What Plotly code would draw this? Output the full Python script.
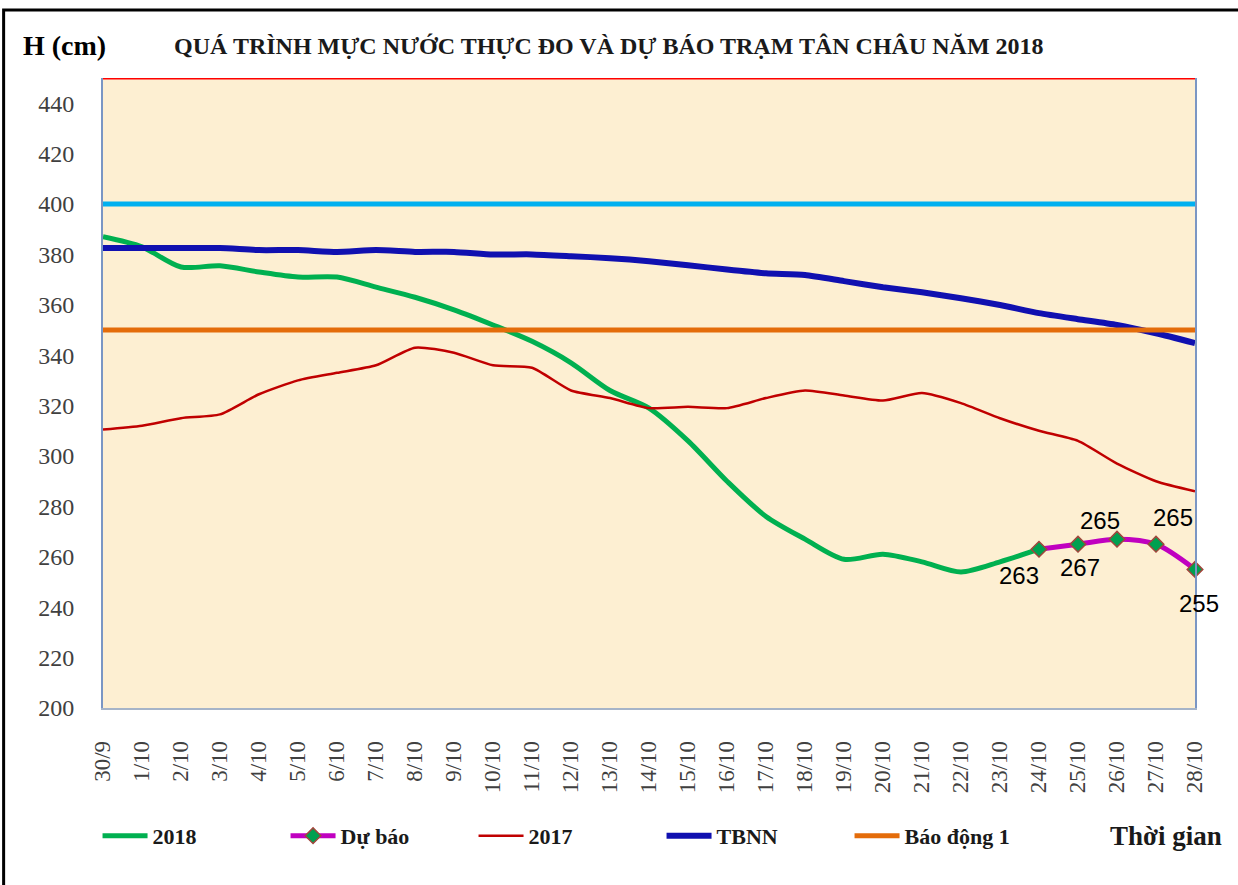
import plotly.graph_objects as go

dates = ["30/9", "1/10", "2/10", "3/10", "4/10", "5/10", "6/10", "7/10", "8/10", "9/10",
         "10/10", "11/10", "12/10", "13/10", "14/10", "15/10", "16/10", "17/10", "18/10",
         "19/10", "20/10", "21/10", "22/10", "23/10", "24/10", "25/10", "26/10", "27/10", "28/10"]

h2018 = [387, 383, 375, 375.5, 373, 371, 371, 367, 363, 358, 352, 345.5, 337, 326, 319,
         306, 290, 276, 267, 259, 261, 258, 254, 258, 263]

forecast_dates = ["24/10", "25/10", "26/10", "27/10", "28/10"]
forecast = [263, 265, 267, 265, 255]
forecast_labels = ["263", "267", "265", "265", "255"]

h2017 = [310.5, 312, 315, 316.5, 324.5, 330, 333, 336, 343, 341, 336, 335, 326, 323, 319,
         319.5, 319, 323, 326, 324, 322, 325, 321, 315, 310, 306, 297, 290, 286]

tbnn = [382.5, 382.5, 382.5, 382.5, 381.7, 381.7, 381, 381.7, 381, 381, 380, 380, 379.3,
        378.5, 377.3, 375.7, 374, 372.5, 371.8, 369.4, 367, 365, 362.6, 359.9, 356.7,
        354.3, 352, 348.7, 344.8]

alarm_1 = 350
alarm_2 = 400
alarm_3 = 450

y_ticks = [200, 220, 240, 260, 280, 300, 320, 340, 360, 380, 400, 420, 440]

serif = "Liberation Serif, Times New Roman, serif"

fig = go.Figure()

fig.add_trace(go.Scatter(x=dates, y=[alarm_3] * len(dates), mode="lines",
                         line=dict(color="#FF0000", width=3), showlegend=False,
                         cliponaxis=False, hoverinfo="skip"))
fig.add_trace(go.Scatter(x=dates, y=[alarm_2] * len(dates), mode="lines",
                         line=dict(color="#00B0F0", width=5), showlegend=False,
                         hoverinfo="skip"))
fig.add_trace(go.Scatter(x=dates[:len(h2018)], y=h2018, mode="lines", name="2018",
                         line=dict(color="#00B050", width=5, shape="spline", smoothing=0.8)))
fig.add_trace(go.Scatter(x=forecast_dates, y=forecast, mode="lines+markers", name="Dự báo",
                         line=dict(color="#C000C0", width=5, shape="spline", smoothing=0.8),
                         marker=dict(symbol="diamond", size=12, color="#00A050",
                                     line=dict(color="#A0463C", width=1.5)),
                         cliponaxis=False))
fig.add_trace(go.Scatter(x=dates, y=h2017, mode="lines", name="2017",
                         line=dict(color="#C00000", width=2.5, shape="spline", smoothing=0.6)))
fig.add_trace(go.Scatter(x=dates, y=tbnn, mode="lines", name="TBNN",
                         line=dict(color="#1010B0", width=6, shape="spline", smoothing=0.6)))
fig.add_trace(go.Scatter(x=dates, y=[alarm_1] * len(dates), mode="lines", name="Báo động 1",
                         line=dict(color="#E46C0A", width=5)))

label_offsets = [(-20, -26), (2, -23), (-17, 19), (17, 27), (4, -34)]
for d, v, t, (dx, dy) in zip(forecast_dates, forecast, forecast_labels, label_offsets):
    fig.add_annotation(x=d, y=v, text=t, showarrow=False, xshift=dx, yshift=dy,
                       font=dict(family="Liberation Sans, Arial, sans-serif", size=24,
                                 color="#000000"))

fig.add_annotation(xref="paper", yref="paper", x=-0.075, y=1.051, xanchor="left",
                   yanchor="middle", text="<b>H (cm)</b>", showarrow=False,
                   font=dict(family=serif, size=28, color="#000000"))
fig.add_annotation(xref="paper", yref="paper", x=0.063, y=1.051, xanchor="left",
                   yanchor="middle",
                   text="<b>QUÁ TRÌNH MỰC NƯỚC THỰC ĐO VÀ DỰ BÁO TRẠM TÂN CHÂU NĂM 2018</b>",
                   showarrow=False, font=dict(family=serif, size=24, color="#1A1A1A"))
fig.add_annotation(xref="paper", yref="paper", x=1.027, y=-0.203, xanchor="right",
                   yanchor="middle", text="<b>Thời gian</b>", showarrow=False,
                   font=dict(family=serif, size=27, color="#1A1A1A"))

fig.add_shape(type="rect", xref="paper", yref="paper", x0=-0.091, x1=1.06, y0=-0.3,
              y1=1.108, line=dict(color="#000000", width=3), fillcolor="rgba(0,0,0,0)",
              layer="above")

fig.update_layout(
    width=1238, height=885,
    margin=dict(l=103, r=43, t=78, b=177),
    paper_bgcolor="#FFFFFF",
    plot_bgcolor="#FDEFD2",
    showlegend=True,
    legend=dict(orientation="h", x=-0.005, y=-0.203, xanchor="left", yanchor="middle",
                font=dict(family=serif, size=22, color="#1A1A1A", weight="bold"),
                itemwidth=45, entrywidth=128, bgcolor="rgba(0,0,0,0)",
                traceorder="normal"),
    xaxis=dict(type="category", range=[0, len(dates) - 1], showgrid=False,
               tickangle=-90, tickfont=dict(family=serif, size=23, color="#404040"),
               ticks="", showline=True, linecolor="#A6B4C8", linewidth=1.5,
               ticklabelstandoff=22, zeroline=False),
    yaxis=dict(range=[200, 450], tickvals=y_ticks, showgrid=False,
               tickfont=dict(family=serif, size=24, color="#404040"),
               ticks="", showline=True, linecolor="#7A96C4", linewidth=2, mirror=True,
               ticklabelstandoff=22, zeroline=False),
)

fig.write_html("out.html", config={"displayModeBar": False},
               post_script="document.body.style.margin='0';")
